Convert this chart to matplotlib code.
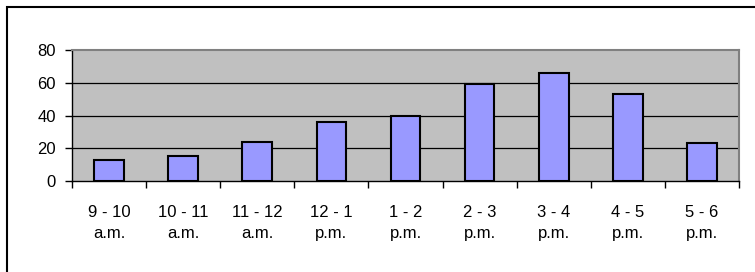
import matplotlib
matplotlib.use("Agg")
import matplotlib.pyplot as plt
from matplotlib.patches import Rectangle

categories = ["9 - 10\na.m.", "10 - 11\na.m.", "11 - 12\na.m.", "12 - 1\np.m.", "1 - 2\np.m.",
              "2 - 3\np.m.", "3 - 4\np.m.", "4 - 5\np.m.", "5 - 6\np.m."]
values = [13, 15, 24, 36, 40, 59, 66, 53, 23]
yticks = [0, 20, 40, 60, 80]

plt.rcParams['font.family'] = ['Liberation Sans', 'DejaVu Sans']

W, H = 755, 272
fig = plt.figure(figsize=(W / 100, H / 100), dpi=100)
fig.patch.set_facecolor("white")

# outer chart border
fig.add_artist(Rectangle((7 / W, -0.1), 1.2, (H - 7) / H + 0.1, transform=fig.transFigure,
                         fill=False, edgecolor="black", linewidth=1.5))

left, right, top, bottom = 72, 739, 50, 181
ax = fig.add_axes([left / W, 1 - bottom / H, (right - left) / W, (bottom - top) / H])
ax.set_facecolor("#C0C0C0")

x = list(range(len(values)))
ax.bar(x, values, width=0.4, color="#9999FF", edgecolor="black", linewidth=1.5, zorder=3)

ax.set_xlim(-0.5, len(values) - 0.5)
ax.set_ylim(0, 80)
ax.set_yticks(yticks)
ax.set_yticklabels([str(v) for v in yticks], fontsize=12)
for v in yticks[1:-1]:
    ax.axhline(v, color="black", linewidth=0.9, zorder=1)

ax.set_xticks([i + 0.5 for i in range(-1, len(values))])
ax.set_xticklabels([])
ax.set_xticks(x, minor=True)
ax.set_xticklabels(categories, minor=True, fontsize=12, linespacing=1.5)
ax.tick_params(axis="x", which="minor", length=0, pad=17.5)
ax.tick_params(axis="x", which="major", length=5, width=1, direction="out")
ax.tick_params(axis="y", length=5, width=1, direction="out", pad=6.5)

for s in ["top", "right"]:
    ax.spines[s].set_color("#808080")
    ax.spines[s].set_linewidth(1.5)
for s in ["left", "bottom"]:
    ax.spines[s].set_color("black")
    ax.spines[s].set_linewidth(1)

fig.savefig("out.png", dpi=100)
